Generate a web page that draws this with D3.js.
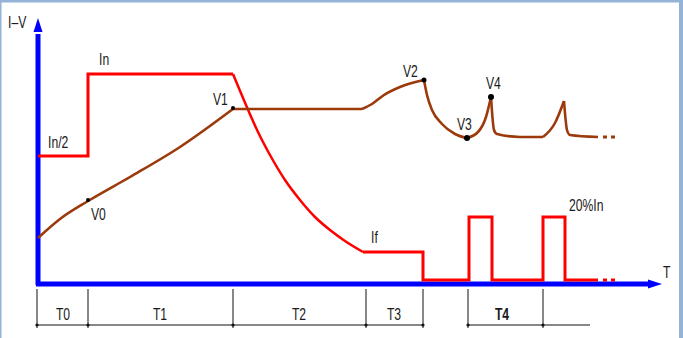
<!DOCTYPE html>
<html>
<head>
<meta charset="utf-8">
<script src="https://cdn.jsdelivr.net/npm/d3@7"></script>
<style>
  html, body { margin: 0; padding: 0; background: #fff; }
  svg text { font-family: "Liberation Sans", Arial, sans-serif; font-size: 16px; fill: #1a1a1a; }
</style>
</head>
<body>
<div id="chart"></div>
<script>
// time / level units measured from the axis origin
var currentStep = [[0,128],[50,128],[50,210],[195,210]];
var currentFall = [[195,210],[208,179],[220,152],[232,129],[247,104],[262,84],[277,67],[292,54],[307,43],[325,32]];
var currentTail = [[325,32],[385,32],[385,4],[431,4],[431,67],[454,67],[454,4],[505,4],[505,67],[527,67],[527,4],[560,4]];
var currentDots = [567,575];

var voltageSegs = [
  [[0,46],[22,65],[50,83],[92,107],[142,137],[195,175]],
  [[195,175],[324,175]],
  [[324,175],[334,180],[346,189],[362,197],[386,204]],
  [[386,204],[389,189],[394,174],[404,160],[417,150],[429,146]],
  [[429,146],[440,152],[448,167],[453,187]],
  [[453,187],[456,154],[459,150],[482,147],[505,147]],
  [[505,147],[517,161],[526,183]],
  [[526,183],[529,154],[532,149],[560,147]]
];
var voltageDots = [567,575];

var marks = [
  {name:"V0", t:50, v:84, r:2, lx:53, ly:64},
  {name:"V1", t:195, v:176, r:2, lx:175, ly:179},
  {name:"V2", t:386, v:204, r:2.5, lx:365, ly:207},
  {name:"V3", t:429, v:146, r:3, lx:419, ly:154},
  {name:"V4", t:453, v:187, r:3, lx:448, ly:195}
];
var labels = [
  {text:"I\u2013V", t:-30, v:256},
  {text:"In", t:61, v:219},
  {text:"In/2", t:10, v:136},
  {text:"If", t:333, v:41},
  {text:"20%In", t:531, v:73},
  {text:"T", t:625, v:6}
];
var phaseTicks = [[-1,50,195,328,385],[430,505]];
var phaseEnd = [385, 552];
var phaseNames = ["T0","T1","T2","T3","T4"];
var phaseMid = [25,122,261,356,464];

var W = 683, H = 338, NARROW = 0.76;
var x = d3.scaleLinear().domain([0,625]).range([38,663]);
var y = d3.scaleLinear().domain([0,266]).range([284,18]);

var svg = d3.select("#chart").append("svg").attr("width", W).attr("height", H);

// narrow text, like the condensed face of the original
function label(px, py, str, anchor, bold){
  svg.append("text").attr("transform","translate("+px+","+py+") scale("+NARROW+",1)")
    .attr("text-anchor", anchor || "start")
    .style("font-weight", bold ? "bold" : "normal").text(str);
}

// frame
svg.append("rect").attr("x",0).attr("y",0).attr("width",W).attr("height",2.5).attr("fill","#95b3d7");
svg.append("rect").attr("x",0).attr("y",0).attr("width",1.5).attr("height",H).attr("fill","#95b3d7");
svg.append("rect").attr("x",679).attr("y",0).attr("width",4).attr("height",H).attr("fill","#95b3d7");

var lin = d3.line().x(function(d){return x(d[0]);}).y(function(d){return y(d[1]);});
var smooth = d3.line().x(function(d){return x(d[0]);}).y(function(d){return y(d[1]);}).curve(d3.curveMonotoneX);

// axes
svg.append("line").attr("x1",x(0)).attr("x2",x(0)).attr("y1",y(-1)).attr("y2",y(250))
  .attr("stroke","#0000ff").attr("stroke-width",5);
svg.append("path").attr("d","M"+x(0)+","+y(266)+"L"+(x(0)-4.5)+","+y(252)+"L"+(x(0)+4.5)+","+y(252)+"Z").attr("fill","#0000ff");
svg.append("line").attr("x1",x(-2)).attr("x2",x(612)).attr("y1",y(0)).attr("y2",y(0))
  .attr("stroke","#0000ff").attr("stroke-width",5);
svg.append("path").attr("d","M"+x(624)+","+y(0)+"L"+x(610)+","+(y(0)-4.5)+"L"+x(610)+","+(y(0)+4.5)+"Z").attr("fill","#0000ff");

// current
[currentStep, currentTail].forEach(function(p){
  svg.append("path").attr("d",lin(p)).attr("fill","none").attr("stroke","#ff0000").attr("stroke-width",3).attr("stroke-linejoin","miter");
});
svg.append("path").attr("d",smooth(currentFall)).attr("fill","none").attr("stroke","#ff0000").attr("stroke-width",2.5);
currentDots.forEach(function(t){
  svg.append("rect").attr("x",x(t)-2).attr("y",y(4)-1.5).attr("width",4).attr("height",3).attr("fill","#ff0000");
});

// voltage
voltageSegs.forEach(function(p){
  svg.append("path").attr("d",smooth(p)).attr("fill","none").attr("stroke","#9c3a0c").attr("stroke-width",2.6);
});
voltageDots.forEach(function(t){
  svg.append("rect").attr("x",x(t)-2).attr("y",y(147)-1.5).attr("width",4).attr("height",3).attr("fill","#9c3a0c");
});

marks.forEach(function(m){
  svg.append("circle").attr("cx",x(m.t)).attr("cy",y(m.v)).attr("r",m.r).attr("fill","#000");
  label(x(m.lx), y(m.ly), m.name);
});
labels.forEach(function(l){
  label(x(l.t), y(l.v), l.text);
});

// phase bar
var barY = 325;
phaseTicks.forEach(function(g, gi){
  svg.append("line").attr("x1",x(g[0])).attr("x2",x(phaseEnd[gi])).attr("y1",barY).attr("y2",barY)
    .attr("stroke","#111").attr("stroke-width",1);
  g.forEach(function(t){
    svg.append("line").attr("x1",x(t)).attr("x2",x(t)).attr("y1",289).attr("y2",328)
      .attr("stroke","#111").attr("stroke-width",1);
    svg.append("circle").attr("cx",x(t)).attr("cy",barY).attr("r",1.6).attr("fill","#111");
  });
});
phaseNames.forEach(function(n, i){
  label(x(phaseMid[i]), 320, n, "middle", n == "T4");
});
</script>
</body>
</html>
